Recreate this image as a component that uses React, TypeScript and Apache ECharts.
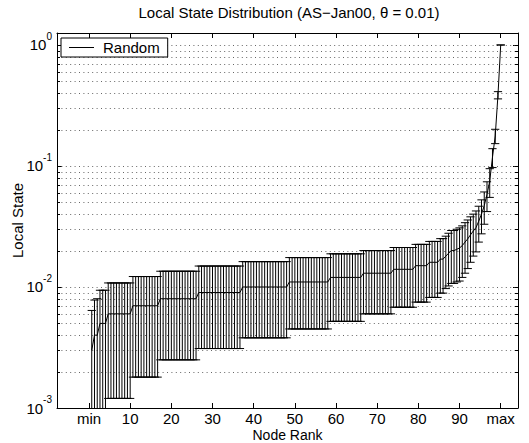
import { useEffect, useRef } from 'react';
import * as echarts from 'echarts';

// Mean local state of each of the 150 sampled node ranks (left = min, right = max)
const meanState = [
  0.003, 0.004, 0.004, 0.005, 0.005, 0.005, 0.006, 0.006, 0.006, 0.006,
  0.006, 0.006, 0.006, 0.006, 0.006, 0.007, 0.007, 0.007, 0.007, 0.007,
  0.007, 0.007, 0.007, 0.007, 0.007, 0.008, 0.008, 0.008, 0.008, 0.008,
  0.008, 0.008, 0.008, 0.008, 0.008, 0.008, 0.008, 0.008, 0.008, 0.009,
  0.009, 0.009, 0.009, 0.009, 0.009, 0.009, 0.009, 0.009, 0.009, 0.009,
  0.009, 0.009, 0.009, 0.009, 0.009, 0.010, 0.010, 0.010, 0.010, 0.010,
  0.010, 0.010, 0.010, 0.010, 0.010, 0.010, 0.010, 0.010, 0.010, 0.010,
  0.010, 0.010, 0.011, 0.011, 0.011, 0.011, 0.011, 0.011, 0.011, 0.011,
  0.011, 0.011, 0.011, 0.011, 0.011, 0.011, 0.011, 0.012, 0.012, 0.012,
  0.012, 0.012, 0.012, 0.012, 0.012, 0.012, 0.012, 0.012, 0.012, 0.013,
  0.013, 0.013, 0.013, 0.013, 0.013, 0.013, 0.013, 0.013, 0.013, 0.013,
  0.014, 0.014, 0.014, 0.014, 0.014, 0.014, 0.014, 0.014, 0.015, 0.015,
  0.015, 0.015, 0.015, 0.016, 0.016, 0.016, 0.016, 0.017, 0.017, 0.018,
  0.019, 0.020, 0.020, 0.0205, 0.021, 0.022, 0.0235, 0.025, 0.027, 0.029,
  0.031, 0.035, 0.040, 0.047, 0.058, 0.075, 0.118, 0.177, 0.385, 1.000,
];

// Standard deviation (error bar half-length) of each sampled rank
const stdState = [
  0.0034, 0.0038, 0.0040, 0.0044, 0.0044, 0.0044, 0.0048, 0.0048, 0.0048, 0.0048,
  0.0048, 0.0048, 0.0048, 0.0048, 0.0048, 0.0052, 0.0052, 0.0052, 0.0052, 0.0052,
  0.0052, 0.0052, 0.0052, 0.0052, 0.0052, 0.0055, 0.0055, 0.0055, 0.0055, 0.0055,
  0.0055, 0.0055, 0.0055, 0.0055, 0.0055, 0.0055, 0.0055, 0.0055, 0.0055, 0.0059,
  0.0059, 0.0059, 0.0059, 0.0059, 0.0059, 0.0059, 0.0059, 0.0059, 0.0059, 0.0059,
  0.0059, 0.0059, 0.0059, 0.0059, 0.0059, 0.0062, 0.0062, 0.0062, 0.0062, 0.0062,
  0.0062, 0.0062, 0.0062, 0.0062, 0.0062, 0.0062, 0.0062, 0.0062, 0.0062, 0.0062,
  0.0062, 0.0062, 0.0065, 0.0065, 0.0065, 0.0065, 0.0065, 0.0065, 0.0065, 0.0065,
  0.0065, 0.0065, 0.0065, 0.0065, 0.0065, 0.0065, 0.0065, 0.0068, 0.0068, 0.0068,
  0.0068, 0.0068, 0.0068, 0.0068, 0.0068, 0.0068, 0.0068, 0.0068, 0.0068, 0.0070,
  0.0070, 0.0070, 0.0070, 0.0070, 0.0070, 0.0070, 0.0070, 0.0070, 0.0070, 0.0070,
  0.0072, 0.0072, 0.0072, 0.0072, 0.0072, 0.0072, 0.0072, 0.0072, 0.0075, 0.0075,
  0.0075, 0.0075, 0.0075, 0.0078, 0.0078, 0.0078, 0.0078, 0.0081, 0.0081, 0.0083,
  0.0088, 0.0093, 0.0093, 0.0095, 0.0098, 0.0100, 0.0105, 0.0108, 0.0110, 0.0110,
  0.0115, 0.0115, 0.0125, 0.0140, 0.0160, 0.0200, 0.0210, 0.0240, 0.0265, 0.0000,
];

// x-axis ticks: sample position of each tick and its label
const rankTickSamples = [0, 15, 30, 45, 60, 75, 90, 105, 120, 135, 150];
const rankTickLabels = ['min', '10', '20', '30', '40', '50', '60', '70', '80', '90', 'max'];

// y-axis decades and dotted grid levels
const decadeTicks = [0.001, 0.01, 0.1, 1];
const gridLevels = [
  0.002, 0.003, 0.004, 0.005, 0.006, 0.007, 0.008, 0.009,
  0.01, 0.02, 0.03, 0.04, 0.05, 0.06, 0.07, 0.08, 0.09,
  0.1, 0.2, 0.3, 0.4, 0.5, 0.6, 0.7, 0.8, 0.9, 1,
];

const FONT = '"Liberation Sans", Arial, Helvetica, sans-serif';
const X_MIN = -11.66;
const X_MAX = 156.3;
const Y_MIN = 0.001;
const Y_MAX = 1.256;
const CAP_HALF = 1.5;

export default function App() {
  const ref = useRef<HTMLDivElement>(null);

  useEffect(() => {
    if (!ref.current) return;
    const chart = echarts.init(ref.current, undefined, { renderer: 'svg' });

    const xLabel = (v: number) => {
      const k = rankTickSamples.indexOf(Math.round(v));
      return k >= 0 ? rankTickLabels[k] : '';
    };
    const yLabel = (v: number) => {
      const e = Math.round(Math.log10(v));
      return `{b|10}{s|${e === 0 ? '0' : '-' + -e}}`;
    };

    const errData = meanState.map((m, k) => [k + 1, Math.max(m - stdState[k], 1e-6), m + stdState[k]]);
    const lineData = meanState.map((m, k) => [k + 1, m]);

    const axisLineStyle = { color: '#000', width: 1 };

    const option: any = {
      animation: false,
      backgroundColor: '#fff',
      title: {
        text: 'Local State Distribution (AS\u2212Jan00, \u03b8 = 0.01)',
        left: 289,
        top: 5,
        textAlign: 'center',
        padding: 0,
        textStyle: { fontSize: 15, fontWeight: 'normal', color: '#000', fontFamily: FONT },
      },
      legend: {
        data: [{ name: 'Random', icon: 'rect' }],
        left: 61,
        top: 38,
        padding: [2, 8, 2, 8],
        itemWidth: 25,
        itemHeight: 1,
        backgroundColor: '#fff',
        borderColor: '#000',
        borderWidth: 1,
        borderRadius: 0,
        selectedMode: false,
        itemStyle: { color: '#000' },
        lineStyle: { color: '#000', width: 1 },
        textStyle: { fontSize: 15, lineHeight: 15, color: '#000', fontFamily: FONT, padding: [0, 0, 0, 4] },
      },
      grid: { left: 57, top: 33, width: 461, height: 375, containLabel: false, outerBoundsMode: 'none' },
      xAxis: [
        {
          type: 'value',
          min: X_MIN,
          max: X_MAX,
          position: 'bottom',
          name: 'Node Rank',
          nameLocation: 'middle',
          nameGap: 20,
          nameMoveOverlap: false,
          nameTextStyle: { fontSize: 14, lineHeight: 14, color: '#000', fontFamily: FONT },
          axisLine: { show: true, onZero: false, lineStyle: axisLineStyle },
          axisTick: { show: true, inside: true, length: 5, customValues: rankTickSamples, lineStyle: axisLineStyle },
          axisLabel: {
            show: true,
            customValues: rankTickSamples,
            formatter: xLabel,
            margin: 3,
            fontSize: 15,
            lineHeight: 15,
            color: '#000',
            fontFamily: FONT,
            hideOverlap: false,
          },
          splitLine: { show: false },
        },
        {
          type: 'value',
          min: X_MIN,
          max: X_MAX,
          position: 'top',
          axisLine: { show: true, onZero: false, lineStyle: axisLineStyle },
          axisTick: { show: true, inside: true, length: 5, customValues: rankTickSamples, lineStyle: axisLineStyle },
          axisLabel: { show: false },
          splitLine: { show: false },
        },
      ],
      yAxis: [
        {
          type: 'log',
          logBase: 10,
          min: Y_MIN,
          max: Y_MAX,
          position: 'left',
          name: 'Local State',
          nameLocation: 'middle',
          nameGap: 32,
          nameMoveOverlap: false,
          nameTextStyle: { fontSize: 15, color: '#000', fontFamily: FONT },
          axisLine: { show: true, onZero: false, lineStyle: axisLineStyle },
          axisTick: { show: true, inside: true, length: 5, customValues: decadeTicks, lineStyle: axisLineStyle },
          axisLabel: {
            show: true,
            customValues: decadeTicks,
            formatter: yLabel,
            margin: 5,
            color: '#000',
            fontFamily: FONT,
            hideOverlap: false,
            rich: {
              b: { fontSize: 15, fontFamily: FONT, color: '#000', lineHeight: 15, padding: [6, 0, 6, 0] },
              s: { fontSize: 10, fontFamily: FONT, color: '#000', lineHeight: 10, padding: [0, 0, 17, 0] },
            },
          },
          splitLine: { show: false },
        },
        {
          type: 'log',
          logBase: 10,
          min: Y_MIN,
          max: Y_MAX,
          position: 'right',
          axisLine: { show: true, onZero: false, lineStyle: axisLineStyle },
          axisTick: { show: true, inside: true, length: 5, customValues: decadeTicks, lineStyle: axisLineStyle },
          axisLabel: { show: false },
          splitLine: { show: false },
        },
      ],
      series: [
        {
          type: 'custom',
          name: 'gridlines',
          silent: true,
          xAxisIndex: 0,
          yAxisIndex: 0,
          z: 1,
          data: gridLevels.map((v) => [0, v]),
          renderItem: (params: any, api: any) => {
            const cs = params.coordSys;
            const y = Math.round(api.coord([0, api.value(1)])[1]) + 0.5;
            return {
              type: 'group',
              children: [
                {
                  type: 'line',
                  shape: { x1: cs.x, y1: y, x2: cs.x + cs.width, y2: y },
                  style: { stroke: '#666', lineWidth: 1, lineDash: [1, 3.4] },
                },
                {
                  type: 'line',
                  shape: { x1: cs.x, y1: y, x2: cs.x + 3, y2: y },
                  style: { stroke: '#000', lineWidth: 1 },
                },
                {
                  type: 'line',
                  shape: { x1: cs.x + cs.width - 3, y1: y, x2: cs.x + cs.width, y2: y },
                  style: { stroke: '#000', lineWidth: 1 },
                },
              ],
            };
          },
        },
        {
          type: 'custom',
          name: 'errorbars',
          silent: true,
          clip: true,
          xAxisIndex: 0,
          yAxisIndex: 0,
          z: 2,
          data: errData,
          renderItem: (params: any, api: any) => {
            const x = api.value(0);
            const lo = api.value(1);
            const hi = api.value(2);
            const pLo = api.coord([x, lo]);
            const pHi = api.coord([x, hi]);
            const xl = api.coord([x - CAP_HALF, hi])[0];
            const xr = api.coord([x + CAP_HALF, hi])[0];
            const st = { stroke: '#000', lineWidth: 1 };
            return {
              type: 'group',
              children: [
                { type: 'line', shape: { x1: pLo[0], y1: pLo[1], x2: pHi[0], y2: pHi[1] }, style: st },
                { type: 'line', shape: { x1: xl, y1: pHi[1], x2: xr, y2: pHi[1] }, style: st },
                { type: 'line', shape: { x1: xl, y1: pLo[1], x2: xr, y2: pLo[1] }, style: st },
              ],
            };
          },
        },
        {
          type: 'line',
          name: 'Random',
          xAxisIndex: 0,
          yAxisIndex: 0,
          z: 3,
          data: lineData,
          symbol: 'none',
          showSymbol: false,
          clip: true,
          lineStyle: { color: '#000', width: 1 },
          itemStyle: { color: '#000' },
        },
      ],
    };

    chart.setOption(option);
    return () => chart.dispose();
  }, []);

  return (
    <div
      ref={ref}
      style={{ position: 'fixed', left: 0, top: 0, width: 529, height: 443, background: '#fff' }}
    />
  );
}
